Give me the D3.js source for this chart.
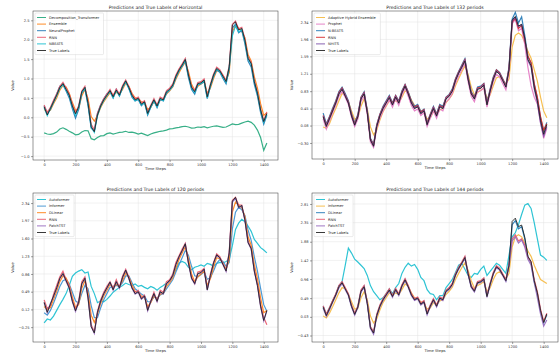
<!DOCTYPE html>
<html><head><meta charset="utf-8">
<script src="https://cdn.jsdelivr.net/npm/d3@7"></script>
<style>body{margin:0;background:#fff}svg{display:block;font-family:"DejaVu Sans",sans-serif}</style>
</head><body><svg id="c" width="560" height="353"></svg>
<script>
const step = 20;
const trueLabels = [0.27,0.06,0.23,0.40,0.57,0.77,0.87,0.72,0.57,0.29,0.09,0.27,0.66,0.77,0.36,-0.24,-0.37,0.06,0.29,0.45,0.57,0.69,0.53,0.70,0.57,0.79,0.94,0.77,0.57,0.45,0.49,0.34,0.40,0.10,0.29,0.45,0.29,0.49,0.45,0.66,0.72,0.83,1.06,1.22,1.35,1.49,1.09,0.77,0.66,0.87,0.89,0.96,0.53,0.83,1.09,1.26,1.20,1.06,0.92,1.30,2.38,2.46,2.25,2.29,1.99,1.52,1.39,0.92,0.62,0.19,-0.11,0.10];

const tlGreen = [-0.40,-0.43,-0.44,-0.42,-0.38,-0.30,-0.27,-0.31,-0.36,-0.40,-0.45,-0.44,-0.38,-0.34,-0.35,-0.55,-0.58,-0.52,-0.48,-0.47,-0.42,-0.40,-0.43,-0.41,-0.39,-0.38,-0.36,-0.39,-0.38,-0.40,-0.43,-0.41,-0.44,-0.47,-0.43,-0.40,-0.38,-0.36,-0.35,-0.33,-0.30,-0.29,-0.27,-0.26,-0.24,-0.23,-0.25,-0.28,-0.27,-0.25,-0.26,-0.24,-0.27,-0.25,-0.23,-0.22,-0.24,-0.26,-0.25,-0.21,-0.17,-0.19,-0.18,-0.15,-0.12,-0.10,-0.13,-0.20,-0.33,-0.52,-0.85,-0.66];
const tlOrange = [0.20,0.15,0.18,0.35,0.50,0.70,0.82,0.78,0.62,0.38,0.18,0.22,0.55,0.72,0.48,0.02,-0.10,0.05,0.25,0.40,0.52,0.63,0.58,0.64,0.60,0.72,0.88,0.80,0.62,0.50,0.47,0.40,0.38,0.20,0.26,0.40,0.33,0.44,0.47,0.60,0.68,0.78,0.98,1.15,1.30,1.42,1.18,0.85,0.70,0.80,0.86,0.92,0.62,0.75,1.00,1.20,1.18,1.08,0.95,1.15,2.20,2.38,2.30,2.22,2.05,1.62,1.45,1.05,0.75,0.35,0.05,0.12];
const tlBlue = [0.30,0.10,0.20,0.42,0.60,0.80,0.84,0.68,0.50,0.22,-0.02,0.20,0.62,0.74,0.30,-0.28,-0.35,0.10,0.32,0.48,0.60,0.66,0.50,0.72,0.55,0.76,0.92,0.74,0.52,0.42,0.46,0.30,0.38,0.06,0.26,0.42,0.25,0.46,0.42,0.62,0.70,0.80,1.02,1.20,1.32,1.45,1.02,0.72,0.60,0.84,0.86,0.92,0.48,0.80,1.05,1.22,1.16,1.00,0.86,1.25,2.30,2.40,2.18,2.24,1.90,1.45,1.30,0.85,0.55,0.12,-0.18,0.05];
const tlRed = [0.32,0.12,0.26,0.44,0.60,0.80,0.90,0.76,0.60,0.34,0.12,0.30,0.68,0.80,0.40,-0.18,-0.32,0.10,0.32,0.48,0.60,0.72,0.56,0.73,0.60,0.82,0.96,0.80,0.60,0.48,0.52,0.37,0.43,0.14,0.32,0.48,0.32,0.52,0.48,0.69,0.75,0.86,1.09,1.25,1.38,1.52,1.12,0.80,0.69,0.90,0.92,0.99,0.56,0.86,1.12,1.29,1.23,1.09,0.95,1.33,2.40,2.48,2.28,2.32,2.02,1.55,1.42,0.95,0.65,0.22,-0.08,0.14];
const tlCyan = [0.25,0.04,0.22,0.38,0.55,0.74,0.85,0.70,0.55,0.27,0.05,0.25,0.63,0.75,0.33,-0.26,-0.39,0.04,0.27,0.43,0.55,0.67,0.50,0.68,0.55,0.77,0.92,0.75,0.55,0.43,0.47,0.32,0.38,0.08,0.27,0.43,0.27,0.47,0.43,0.64,0.70,0.81,1.04,1.20,1.33,1.47,1.07,0.75,0.64,0.85,0.87,0.94,0.50,0.81,1.07,1.24,1.18,1.04,0.90,1.28,2.10,2.36,2.20,2.26,1.95,1.50,1.37,0.90,0.60,0.17,-0.13,0.08];

const trOrange = [0.05,0.02,0.12,0.30,0.45,0.62,0.78,0.74,0.60,0.40,0.22,0.25,0.50,0.66,0.45,0.05,-0.12,-0.02,0.20,0.38,0.50,0.62,0.58,0.62,0.58,0.70,0.84,0.80,0.64,0.52,0.48,0.40,0.38,0.22,0.25,0.38,0.32,0.42,0.45,0.58,0.66,0.76,0.95,1.10,1.25,1.38,1.20,0.92,0.75,0.80,0.85,0.90,0.68,0.75,0.95,1.12,1.15,1.08,0.98,1.10,1.80,2.05,2.10,2.05,1.90,1.70,1.55,1.30,1.05,0.70,0.40,0.25];
const trPink = [0.22,0.00,0.18,0.36,0.52,0.72,0.82,0.70,0.54,0.26,0.06,0.22,0.60,0.72,0.32,-0.28,-0.40,0.02,0.24,0.40,0.52,0.64,0.48,0.66,0.52,0.74,0.90,0.72,0.52,0.40,0.44,0.30,0.36,0.06,0.24,0.40,0.24,0.44,0.40,0.60,0.66,0.78,1.00,1.16,1.30,1.44,1.04,0.72,0.60,0.82,0.84,0.90,0.48,0.78,1.04,1.20,1.14,1.00,0.86,1.24,2.30,2.40,2.15,2.20,1.85,1.35,0.95,0.70,0.55,0.15,-0.20,0.02];
const trBlue = [0.35,0.12,0.28,0.46,0.62,0.82,0.92,0.78,0.62,0.34,0.14,0.32,0.70,0.82,0.42,-0.20,-0.33,0.10,0.33,0.50,0.62,0.74,0.58,0.74,0.62,0.84,0.98,0.82,0.62,0.50,0.54,0.38,0.44,0.14,0.33,0.50,0.34,0.54,0.50,0.70,0.76,0.88,1.10,1.26,1.40,1.54,1.14,0.82,0.70,0.92,0.94,1.00,0.58,0.88,1.14,1.30,1.24,1.10,0.96,1.36,2.40,2.55,2.32,2.45,2.05,1.58,1.44,0.98,0.68,0.25,-0.05,0.15];
const trPurple = [0.28,0.08,0.24,0.41,0.58,0.78,0.88,0.74,0.58,0.30,0.10,0.28,0.67,0.78,0.38,-0.22,-0.36,0.07,0.30,0.46,0.58,0.70,0.54,0.71,0.58,0.80,0.95,0.78,0.58,0.46,0.50,0.35,0.41,0.11,0.30,0.46,0.30,0.50,0.46,0.67,0.73,0.84,1.07,1.23,1.36,1.50,1.10,0.78,0.67,0.88,0.90,0.97,0.54,0.84,1.10,1.27,1.21,1.07,0.93,1.31,2.36,2.44,2.24,2.28,1.98,1.50,1.36,0.88,0.58,0.14,-0.15,0.06];
const trRed = [0.30,0.10,0.26,0.43,0.60,0.80,0.90,0.75,0.60,0.32,0.12,0.30,0.69,0.80,0.39,-0.21,-0.34,0.09,0.32,0.48,0.60,0.72,0.56,0.73,0.60,0.82,0.97,0.80,0.60,0.48,0.52,0.37,0.43,0.13,0.32,0.48,0.32,0.52,0.48,0.69,0.75,0.86,1.09,1.25,1.38,1.52,1.12,0.80,0.69,0.90,0.92,0.99,0.56,0.86,1.12,1.29,1.23,1.09,0.95,1.33,2.34,2.42,2.20,2.26,1.95,1.60,1.45,1.00,0.70,0.28,-0.02,0.12];

const blCyan = [-0.16,-0.08,-0.10,-0.02,0.10,0.22,0.33,0.45,0.62,0.81,0.88,0.92,0.95,0.88,0.90,0.60,0.45,0.26,0.30,0.28,0.33,0.40,0.48,0.53,0.58,0.62,0.67,0.64,0.62,0.65,0.60,0.62,0.58,0.55,0.60,0.57,0.52,0.58,0.62,0.67,0.72,0.81,0.95,1.09,1.12,1.09,1.00,0.95,1.00,1.02,1.05,1.02,1.08,1.06,1.02,1.08,1.10,1.09,1.12,1.16,1.45,1.79,1.92,2.00,1.95,1.86,1.75,1.58,1.50,1.41,1.36,1.30];
const blBlue = [0.05,0.00,0.10,0.25,0.42,0.60,0.72,0.75,0.65,0.48,0.30,0.25,0.45,0.62,0.55,0.20,-0.05,-0.05,0.15,0.32,0.45,0.58,0.60,0.62,0.60,0.68,0.82,0.82,0.68,0.55,0.50,0.44,0.40,0.28,0.28,0.38,0.36,0.42,0.45,0.55,0.64,0.74,0.90,1.05,1.20,1.35,1.25,1.02,0.82,0.80,0.85,0.90,0.75,0.78,0.92,1.08,1.16,1.12,1.02,1.10,1.80,2.15,2.25,2.20,2.08,1.78,1.56,1.22,0.92,0.56,0.22,0.08];
const blRed = [0.32,0.14,0.20,0.44,0.62,0.80,0.92,0.74,0.62,0.32,0.12,0.30,0.70,0.80,0.40,-0.20,-0.35,0.08,0.32,0.48,0.60,0.70,0.56,0.74,0.58,0.82,0.96,0.80,0.58,0.48,0.52,0.36,0.42,0.12,0.30,0.48,0.30,0.52,0.48,0.70,0.74,0.86,1.10,1.24,1.38,1.50,1.10,0.80,0.66,0.90,0.92,0.98,0.55,0.86,1.10,1.28,1.22,1.08,0.94,1.32,2.40,2.46,2.30,2.30,2.00,1.55,1.40,0.95,0.65,0.22,-0.05,-0.20];
const blPurple = [0.26,0.05,0.25,0.38,0.56,0.76,0.86,0.70,0.56,0.28,0.08,0.26,0.64,0.76,0.34,-0.24,-0.38,0.05,0.28,0.44,0.56,0.68,0.52,0.69,0.56,0.78,0.93,0.76,0.56,0.44,0.48,0.33,0.39,0.09,0.28,0.44,0.28,0.48,0.44,0.65,0.71,0.82,1.05,1.21,1.34,1.48,1.08,0.76,0.65,0.86,0.88,0.95,0.52,0.82,1.08,1.25,1.19,1.05,0.91,1.29,2.36,2.44,2.24,2.28,1.98,1.51,1.38,0.91,0.61,0.18,-0.12,0.09];
const blOrange = [0.18,0.12,0.16,0.33,0.50,0.70,0.82,0.78,0.63,0.38,0.16,0.22,0.56,0.72,0.46,0.00,-0.15,0.02,0.24,0.40,0.52,0.64,0.58,0.64,0.60,0.72,0.88,0.80,0.63,0.50,0.48,0.40,0.38,0.18,0.26,0.40,0.33,0.44,0.46,0.60,0.68,0.78,0.98,1.16,1.30,1.43,1.18,0.86,0.70,0.80,0.86,0.92,0.62,0.76,1.00,1.20,1.18,1.08,0.96,1.16,2.15,2.36,2.30,2.24,2.06,1.64,1.46,1.06,0.76,0.36,0.05,0.10];

const brCyan = [0.25,0.10,0.25,0.42,0.58,0.78,0.90,1.30,1.72,1.60,1.45,1.38,1.30,1.22,1.05,0.80,0.65,0.55,0.45,0.50,0.60,0.72,0.60,0.75,0.85,1.10,1.25,1.35,1.28,1.32,1.20,1.00,0.92,0.70,0.60,0.58,0.45,0.55,0.55,0.75,0.85,0.95,1.12,1.30,1.35,1.20,1.05,1.00,1.10,1.08,1.20,1.28,1.05,1.15,1.25,1.35,1.30,1.20,1.10,1.55,2.00,2.10,2.30,2.55,2.78,2.82,2.70,2.35,1.95,1.55,1.50,1.42];
const brOrange = [0.05,0.00,0.12,0.28,0.45,0.62,0.75,0.72,0.58,0.40,0.22,0.24,0.50,0.65,0.45,0.05,-0.12,-0.02,0.20,0.38,0.50,0.62,0.56,0.62,0.58,0.70,0.84,0.78,0.62,0.50,0.48,0.40,0.36,0.22,0.25,0.38,0.32,0.42,0.45,0.58,0.66,0.76,0.95,1.10,1.24,1.36,1.18,0.92,0.74,0.80,0.84,0.90,0.66,0.74,0.95,1.10,1.14,1.06,0.96,1.10,1.75,2.00,2.05,2.00,1.85,1.65,1.52,1.30,1.12,0.95,0.90,0.85];
const brRed = [0.30,0.10,0.26,0.43,0.60,0.80,0.90,0.75,0.60,0.32,0.12,0.30,0.69,0.80,0.39,-0.21,-0.34,0.09,0.32,0.48,0.60,0.72,0.56,0.73,0.60,0.82,0.97,0.80,0.60,0.48,0.52,0.37,0.43,0.13,0.32,0.48,0.32,0.52,0.48,0.69,0.75,0.86,1.09,1.25,1.38,1.52,1.12,0.80,0.69,0.90,0.92,0.99,0.56,0.86,1.12,1.29,1.23,1.09,0.95,1.33,1.95,2.05,1.90,1.95,1.80,1.50,1.38,0.95,0.65,0.22,-0.08,0.12];
const brPurple = [0.24,0.04,0.20,0.38,0.55,0.74,0.85,0.70,0.55,0.27,0.07,0.25,0.64,0.75,0.34,-0.26,-0.40,0.04,0.27,0.43,0.55,0.67,0.51,0.68,0.55,0.77,0.92,0.75,0.55,0.43,0.47,0.32,0.38,0.08,0.27,0.43,0.27,0.47,0.43,0.64,0.70,0.81,1.04,1.20,1.33,1.47,1.07,0.75,0.64,0.85,0.87,0.94,0.51,0.81,1.07,1.24,1.18,1.04,0.90,1.28,1.90,2.00,1.85,1.92,1.75,1.45,1.30,0.88,0.50,0.10,-0.20,-0.05];
const brBlue = [0.30,0.08,0.22,0.42,0.58,0.80,0.88,0.72,0.58,0.30,0.10,0.28,0.67,0.79,0.38,-0.22,-0.36,0.08,0.30,0.46,0.58,0.70,0.54,0.71,0.58,0.80,0.95,0.78,0.58,0.46,0.50,0.35,0.41,0.11,0.30,0.46,0.30,0.50,0.46,0.67,0.73,0.84,1.07,1.23,1.36,1.50,1.10,0.78,0.67,0.88,0.90,0.97,0.54,0.84,1.10,1.27,1.21,1.07,0.93,1.31,2.30,2.40,2.20,2.25,1.95,1.50,1.36,0.90,0.60,0.17,-0.12,0.08];

const titles = ["Predictions and True Labels of Horizontal","Predictions and True Labels of 132 periods","Predictions and True Labels of 120 periods","Predictions and True Labels of 144 periods"];
const legendNames = [
  ["Decomposition_Transformer","Ensemble","NeuralProphet","RNN","NBEATS","True Labels"],
  ["Adaptive Hybrid Ensemble","Prophet","N-BEATS","RNN","NHITS","True Labels"],
  ["Autoformer","Informer","DLinear","RNN","PatchTST","True Labels"],
  ["Autoformer","Informer","DLinear","RNN","PatchTST","True Labels"]];
const xTicks = [0,200,400,600,800,1000,1200,1400];
const yTicks = [
  [-1.0,-0.5,0.0,0.5,1.0,1.5,2.0,2.5],
  [-0.30,0.08,0.45,0.83,1.21,1.59,1.96,2.34],
  [-0.25,0.12,0.49,0.86,1.23,1.60,1.97,2.34],
  [-0.43,0.03,0.49,0.96,1.42,1.88,2.35,2.81]];
const yDomains = [[-1.10,2.74],[-0.65,2.58],[-0.56,2.55],[-0.59,3.08]];
const xLabel = "Time Steps", yLabel = "Value";

const panelSeries = [
  [[tlGreen,"#21a67a"],[tlOrange,"#ff7f0e"],[tlBlue,"#1f77b4"],[tlRed,"#e8576b"],[tlCyan,"#17becf"]],
  [[trOrange,"#f5b83d"],[trPink,"#e377c2"],[trBlue,"#1f77b4"],[trRed,"#d62728"],[trPurple,"#7b4fa8"]],
  [[blCyan,"#17becf"],[blBlue,"#3a8fd0"],[blOrange,"#ff7f0e"],[blRed,"#e8576b"],[blPurple,"#9467bd"]],
  [[brCyan,"#17becf"],[brOrange,"#f5b83d"],[brBlue,"#1f77b4"],[brRed,"#e8576b"],[brPurple,"#9467bd"]]];

const boxes = [
  {x0:33,x1:278,y0:11,y1:160},
  {x0:312,x1:558,y0:11,y1:159},
  {x0:33,x1:278,y0:193,y1:342},
  {x0:312,x1:558,y0:193,y1:342}];

const svg = d3.select("#c");
boxes.forEach((b,p)=>{
  const g = svg.append("g");
  const x = d3.scaleLinear().domain([-71,1491]).range([b.x0,b.x1]);
  const y = d3.scaleLinear().domain(yDomains[p]).range([b.y1,b.y0]);
  g.append("g").selectAll("line").data(xTicks).join("line")
    .attr("x1",d=>x(d)).attr("x2",d=>x(d)).attr("y1",b.y0).attr("y2",b.y1)
    .attr("stroke","#e2e2e2").attr("stroke-width",0.5);
  g.append("g").selectAll("line").data(yTicks[p]).join("line")
    .attr("y1",d=>y(d)).attr("y2",d=>y(d)).attr("x1",b.x0).attr("x2",b.x1)
    .attr("stroke","#e2e2e2").attr("stroke-width",0.5);
  const line = d3.line().x((d,i)=>x(i*step)).y(d=>y(d));
  const clipId = "clip"+p;
  svg.append("clipPath").attr("id",clipId).append("rect")
    .attr("x",b.x0).attr("y",b.y0).attr("width",b.x1-b.x0).attr("height",b.y1-b.y0);
  const lines = g.append("g").attr("clip-path",`url(#${clipId})`);
  panelSeries[p].forEach(([vals,col])=>{
    lines.append("path").datum(vals).attr("d",line).attr("fill","none")
      .attr("stroke",col).attr("stroke-width",1.2).attr("stroke-opacity",0.9);
  });
  lines.append("path").datum(trueLabels).attr("d",line).attr("fill","none")
    .attr("stroke","#222").attr("stroke-width",0.9);
  const xa = d3.axisBottom(x).tickValues(xTicks).tickSize(2).tickPadding(1.5).tickFormat(d3.format("d"));
  const ya = d3.axisLeft(y).tickValues(yTicks[p]).tickSize(2).tickPadding(1.5)
    .tickFormat(p===0?d3.format(".1f"):d3.format(".2f"));
  const gx = g.append("g").attr("transform",`translate(0,${b.y1})`).call(xa);
  const gy = g.append("g").attr("transform",`translate(${b.x0},0)`).call(ya);
  [gx,gy].forEach(a=>{
    a.select(".domain").remove();
    a.selectAll("line").attr("stroke","#444").attr("stroke-width",0.5);
    a.selectAll("text").attr("font-size",3.6).attr("fill","#333").attr("font-family","DejaVu Sans");
  });
  g.append("rect").attr("x",b.x0).attr("y",b.y0).attr("width",b.x1-b.x0).attr("height",b.y1-b.y0)
    .attr("fill","none").attr("stroke","#333").attr("stroke-width",0.5);
  g.append("text").attr("x",(b.x0+b.x1)/2).attr("y",b.y0-2.5).attr("text-anchor","middle")
    .attr("font-size",4.6).attr("fill","#222").text(titles[p]);
  g.append("text").attr("x",(b.x0+b.x1)/2).attr("y",b.y1+10).attr("text-anchor","middle")
    .attr("font-size",3.8).attr("fill","#222").text(xLabel);
  g.append("text").attr("transform",`translate(${b.x0-19},${(b.y0+b.y1)/2}) rotate(-90)`)
    .attr("text-anchor","middle").attr("font-size",3.8).attr("fill","#222").text(yLabel);
  const names = legendNames[p];
  const cols = panelSeries[p].map(s=>s[1]).concat(["#222"]);
  const lx = b.x0+2, ly = b.y0+2, lh = 6.6;
  const lw = d3.max(names,n=>n.length)*2.1+16;
  const lg = g.append("g");
  lg.append("rect").attr("x",lx).attr("y",ly).attr("width",lw).attr("height",names.length*lh+2)
    .attr("fill","#fff").attr("fill-opacity",0.8).attr("stroke","#ccc").attr("stroke-width",0.4).attr("rx",1);
  names.forEach((n,i)=>{
    const yy = ly+4.5+i*lh;
    lg.append("line").attr("x1",lx+2).attr("x2",lx+11).attr("y1",yy).attr("y2",yy)
      .attr("stroke",cols[i]).attr("stroke-width",0.9);
    lg.append("text").attr("x",lx+14).attr("y",yy+1.3).attr("font-size",3.6).attr("fill","#222").text(n);
  });
});
</script></body></html>
